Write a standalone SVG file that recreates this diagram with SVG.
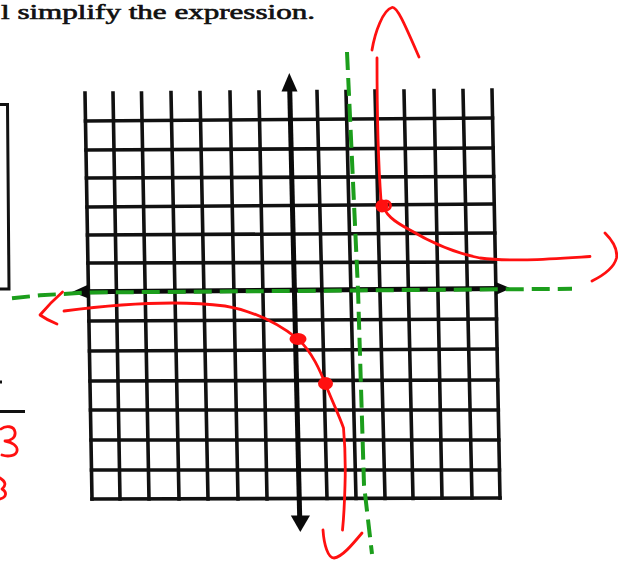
<svg xmlns="http://www.w3.org/2000/svg" width="618" height="562" viewBox="0 0 618 562">
<style>
.g{stroke:#111;stroke-width:3.6;fill:none;stroke-linecap:square}
.ax{stroke:#0a0a0a;stroke-width:5;fill:none}
.ah{fill:#0a0a0a}
.gr{stroke:#1c9e1c;stroke-width:4;fill:none;stroke-dasharray:18 8}
.rd{stroke:#ff1010;stroke-width:2.8;fill:none;stroke-linecap:round;stroke-linejoin:round}
.rf{fill:#ff1010}
.bk{stroke:#111;stroke-width:3;fill:none}
</style>
<rect width="618" height="562" fill="#fff"/>
<g id="heading">
<text x="1" y="18.5" font-family="'Liberation Serif', serif" font-size="20" stroke="#111" stroke-width="0.6" fill="#111" textLength="314" lengthAdjust="spacingAndGlyphs">l simplify the expression.</text>
</g>
<g id="margin">
<path class="bk" d="M0,104.5 L7.5,104.5 L9,289 L0,289"/>
<path class="bk" d="M0,382 L2,382" stroke-width="2"/>
<path class="bk" d="M0,411.5 L25,411.5" stroke-width="3"/>
<path class="rd" d="M1,429 C6,425 14,426 15,432 C16,438 10,441 5,441 C12,442 18,446 17,451 C16,456 8,457 2,455"/>
<path class="rd" d="M0,478 C5,481 7,485 2,489 C7,492 7,497 0,499"/>
</g>
<g id="grid">
<path class="g" d="M85,93 L92,499 M113,93 L120,499 M141.5,93 L149,499 M171,92.5 L179,499 M200,92.5 L208,499 M230,92 L238,499 M259,92 L267,499 M317,91.5 L327,498.5 M346,91.5 L356,498.5 M375,91 L385,498.5 M404,91 L413,498.5 M434,90.5 L442,498 M463,90.5 L472,498 M492,90 L500,498"/>
<path class="g" d="M85.5,121 L492.5,118 M86,150 L493.1,148 M86.5,178 L493.7,176.5 M87,207 L494.2,204 M87.5,235 L494.8,233 M87.9,263 L495.3,262 M88.9,321 L496.5,319 M89.5,351 L497.1,349 M90,381 L497.7,380 M90.5,410 L498.3,410 M91,440 L498.8,440 M91.5,470 L499.4,470 M92,499 L500,498"/>
</g>
<g id="axes">
<path class="ax" d="M80,291.8 L503,288.6"/>
<path class="ax" d="M289.6,84 L299.8,522"/>
<polygon class="ah" points="72,292 88.5,284.5 88.5,298.5"/>
<polygon class="ah" points="511,288.4 495,281.8 495,295.2"/>
<polygon class="ah" points="289.3,73 281.5,91.5 297.5,91.5"/>
<polygon class="ah" points="300.3,532 290.8,515.5 310,515.5"/>
</g>
<g id="asymptotes">
<path class="gr" d="M12,298.3 L40,295.3 L88,292.5 L572,288.8"/>
<path class="gr" d="M347,52 L358,290 L364,485 L372,554"/>
</g>
<g id="curves">
<path class="rd" d="M377,58 C377,110 378,160 381,200 C384,215 395,222 410,230 C430,242 455,253 480,258 C510,262 550,259 590,256.5"/>
<path class="rd" d="M372,50 C375,32 383,10 392,7.5 C397,6 405,25 419,57"/>
<path class="rd" d="M605,233 C612,240 618,248 616.5,258 C614,268 604,275 592,281"/>
<path class="rd" d="M64,311 C110,305 170,299 225,306 C255,311 280,325 298,339 C312,352 320,370 327,388 C334,405 340,418 343.5,428 C345,445 345.5,470 345,485 C344.5,505 343.5,520 342.5,530"/>
<path class="rd" d="M323,530 C324,545 328,558 334,558 C342,557 352,545 362,533"/>
<path class="rd" d="M62.5,292 Q50,303 40,315 Q47,320 57,324"/>
</g>
<g id="points">
<circle class="rf" cx="382" cy="206" r="6.5"/>
<circle class="rd" cx="386" cy="205.5" r="4.5" stroke-width="2"/>
<ellipse class="rf" cx="298" cy="339" rx="8.5" ry="6"/>
<ellipse class="rf" cx="325.5" cy="383.5" rx="7.5" ry="6.5"/>
</g>
</svg>
